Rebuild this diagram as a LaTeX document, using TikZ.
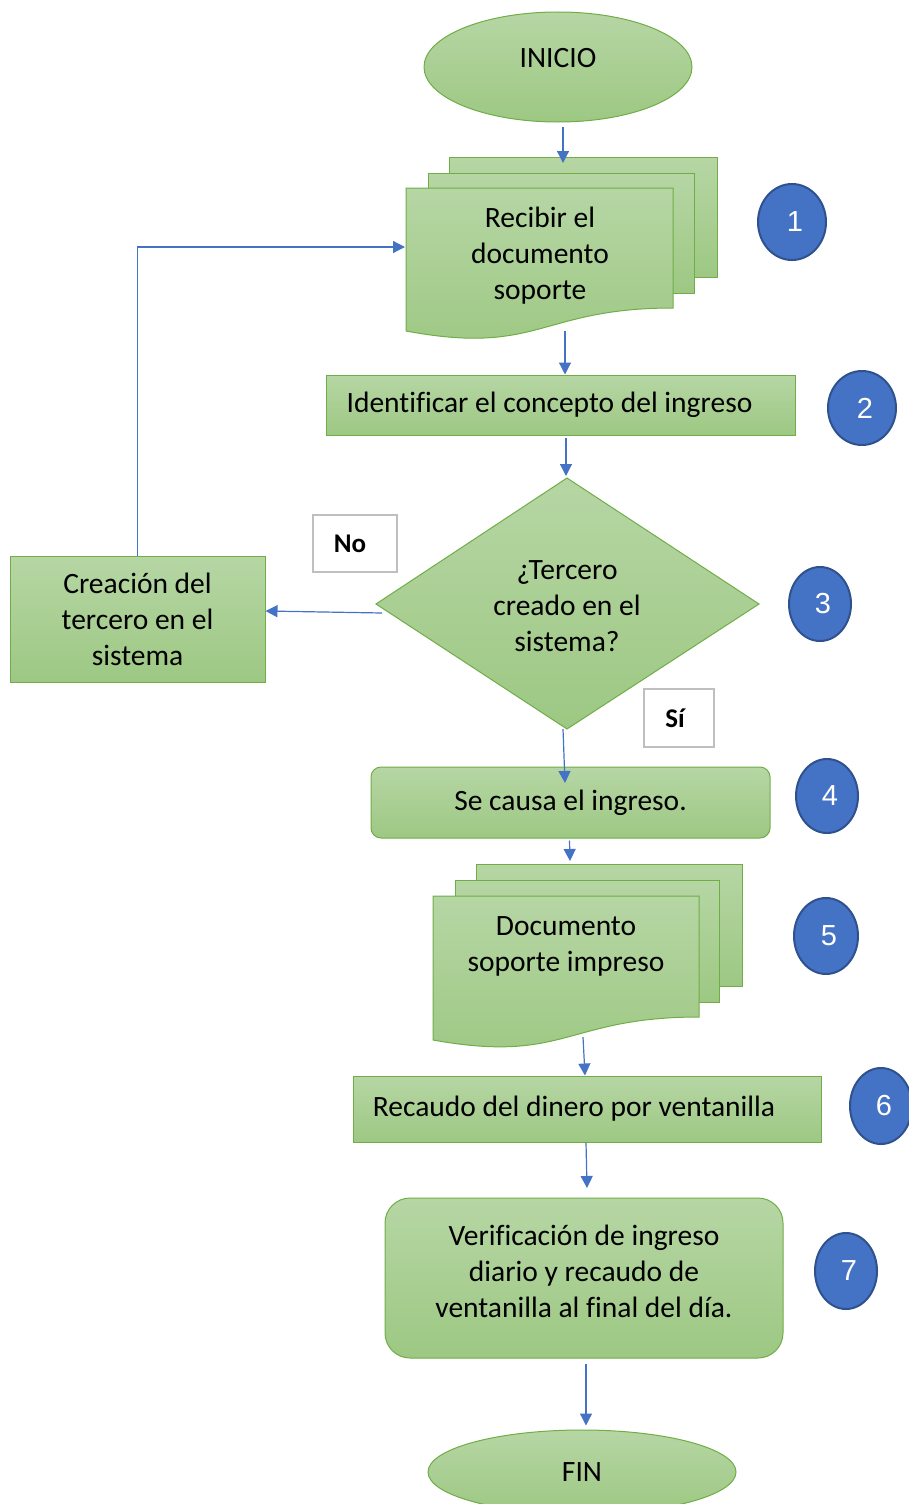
\documentclass[tikz,border=0pt]{standalone}
\usepackage{fontspec}
\setmainfont{Carlito}[Ligatures=NoCommon]
\newfontfamily\arialf{Liberation Sans}
\usetikzlibrary{arrows.meta,shapes.geometric}
\definecolor{gtop}{RGB}{182,214,164}
\definecolor{gbot}{RGB}{157,200,131}
\definecolor{gborder}{RGB}{112,173,71}
\definecolor{ablue}{RGB}{68,114,196}
\definecolor{cborder}{RGB}{47,82,143}
\definecolor{lgray}{RGB}{191,191,191}
\tikzset{
  flow/.style={draw=gborder, line width=1pt, top color=gtop, bottom color=gbot},
  txt/.style={font=\fontsize{29.5}{36}\selectfont, align=center, text=black},
  conn/.style={draw=ablue, line width=1.2pt, -{Triangle[length=12pt,width=12pt]}},
  numc/.style={ellipse, draw=cborder, line width=2pt, fill=ablue, text=white,
    font=\arialf\fontsize{29}{30}\selectfont, inner sep=0pt},
  lbl/.style={draw=lgray, line width=1.5pt, fill=white, text=black,
    font=\bfseries\fontsize{27}{30}\selectfont, inner sep=0pt}
}
\begin{document}
\begin{tikzpicture}[x=1pt,y=-1pt]
\useasboundingbox (0,0) rectangle (909,1504);
\clip (0,0) rectangle (909,1504);

% INICIO
\node[flow, ellipse, minimum width=268pt, minimum height=110pt, inner sep=0pt, txt, text depth=18pt] (inicio) at (558,67) {INICIO};

% multidocument 1
\path[flow] (449,157) rectangle (717,277);
\path[flow] (428,173) rectangle (694,293);
\path[flow] (406,188) -- (673,188) -- (673,308) .. controls (539.5,308) and (539.5,356) .. (406,331) -- cycle;
\node[txt] (doc1) at (540,256) {Recibir el\\documento\\soporte};
\coordinate (doc1T) at (563,163);
\coordinate (doc1L) at (405,247);
\coordinate (doc1B) at (565,331);

% identificar
\node[flow, rectangle, minimum width=469pt, minimum height=60pt, inner sep=0pt, txt] (ident) at (560.5,405) {\hspace*{-22pt}Identificar el concepto del ingreso};

% decision
\path[flow] (567,478) -- (759,604) -- (567,729) -- (376,604) -- cycle;
\node[txt] (dec) at (567,606) {¿Tercero\\creado en el\\sistema?};
\coordinate (decT) at (566,476);
\coordinate (decL) at (382,613);
\coordinate (decB) at (563,729);

% creacion
\node[flow, rectangle, minimum width=255pt, minimum height=126pt, inner sep=0pt, txt] (cre) at (137.5,619) {Creación del\\tercero en el\\sistema};

% labels
\node[lbl, minimum width=84pt, minimum height=57pt] (no) at (355,543.5) {\hspace*{-10pt}No};
\node[lbl, minimum width=70pt, minimum height=58pt] (si) at (679,718) {\hspace*{-8pt}Sí};

% se causa
\node[flow, rectangle, rounded corners=10pt, minimum width=399pt, minimum height=71pt, inner sep=0pt, txt] (causa) at (570.5,802.5) {Se causa el ingreso.};
\coordinate (causaIn) at (565,783);

% multidocument 2
\path[flow] (476,864) rectangle (742,986);
\path[flow] (455,880) rectangle (719,1002);
\path[flow] (433,896) -- (699,896) -- (699,1017) .. controls (566,1017) and (566,1064) .. (433,1040) -- cycle;
\node[txt] (doc2) at (566,946) {Documento\\soporte impreso};
\coordinate (doc2T) at (570,861);
\coordinate (doc2B) at (583,1037);

% recaudo
\node[flow, rectangle, minimum width=468pt, minimum height=66pt, inner sep=0pt, txt] (recaudo) at (587,1109) {\hspace*{-26pt}Recaudo del dinero por ventanilla};
\coordinate (verifIn) at (587,1188);

% verificacion
\node[flow, rectangle, rounded corners=25pt, minimum width=398pt, minimum height=160pt, inner sep=0pt] (verif) at (584,1278) {};
\node[txt] (verifT) at (584,1271) {Verificación de ingreso\\diario y recaudo de\\ventanilla al final del día.};

% FIN
\node[flow, ellipse, minimum width=308pt, minimum height=84pt, inner sep=0pt, txt] (fin) at (582,1472) {FIN};

% number circles
\node[numc, minimum width=68pt, minimum height=76pt] (n1) at (792,222) {\hspace*{6pt}1};
\node[numc, minimum width=68pt, minimum height=74pt] (n2) at (862,408) {\hspace*{6pt}2};
\node[numc, minimum width=62pt, minimum height=74pt] (n3) at (820,604) {\hspace*{6pt}3};
\node[numc, minimum width=62pt, minimum height=74pt] (n4) at (827,796) {\hspace*{6pt}4};
\node[numc, minimum width=64pt, minimum height=76pt] (n5) at (826,936) {\hspace*{6pt}5};
\node[numc, minimum width=62pt, minimum height=76pt] (n6) at (881,1106) {\hspace*{6pt}6};
\node[numc, minimum width=62pt, minimum height=76pt] (n7) at (846,1271) {\hspace*{6pt}7};

% connectors
\draw[conn] ([xshift=5pt,yshift=-4pt]inicio.south) -- (doc1T);
\draw[conn] (cre.north) |- (doc1L);
\draw[conn] (doc1B) -- (doc1B |- ident.north);
\draw[conn] ([xshift=5.5pt,yshift=-2pt]ident.south) -- (decT);
\draw[conn] (decL) -- ([yshift=8pt]cre.east);
\draw[conn] (decB) -- (causaIn);
\draw[conn] ([xshift=-1pt,yshift=-2pt]causa.south) -- (doc2T);
\draw[conn] (doc2B) -- ([xshift=-2pt]recaudo.north);
\draw[conn] ([xshift=-1pt]recaudo.south) -- (verifIn);
\draw[conn] ([xshift=2pt,yshift=-5pt]verif.south) -- ([xshift=4pt,yshift=4pt]fin.north);
\end{tikzpicture}
\end{document}
